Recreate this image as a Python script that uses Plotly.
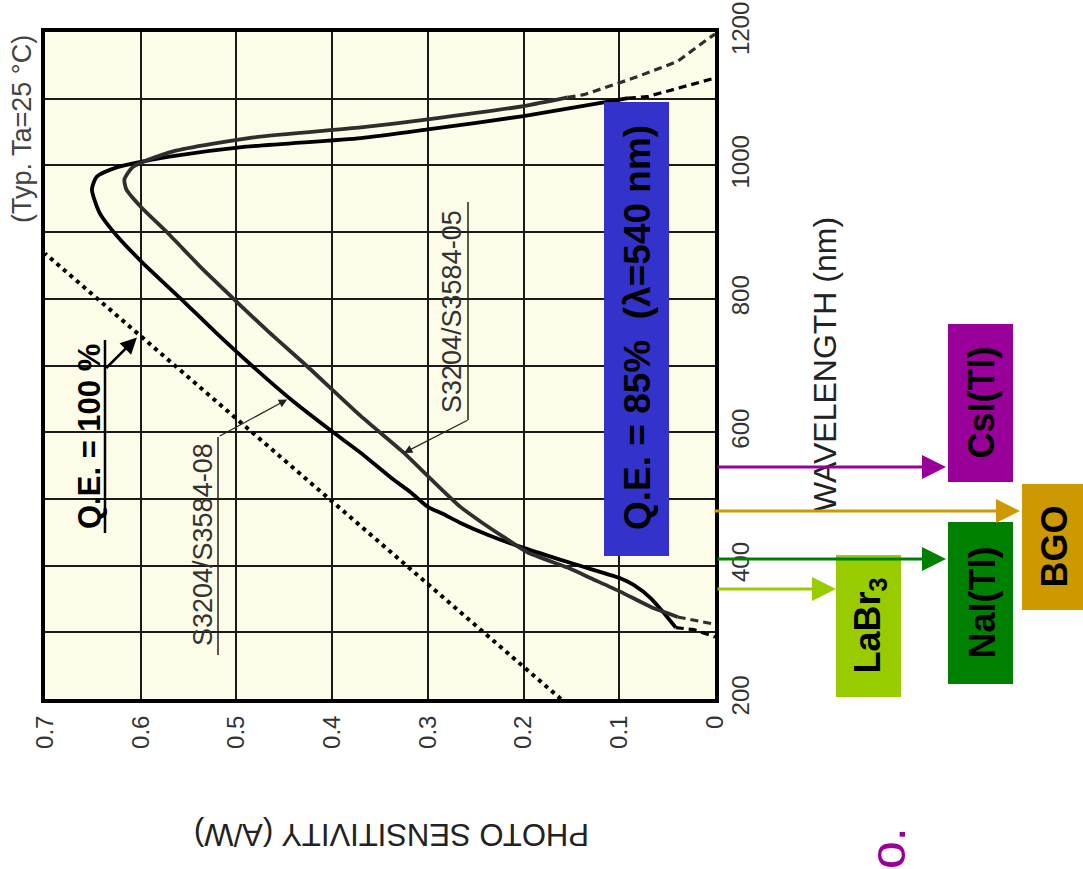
import plotly.graph_objects as go

# ---- data -------------------------------------------------------------
# S3204/S3584-08 (black curve): wavelength (nm) and photo sensitivity (A/W)
s08_nm = [307, 330, 351, 371, 381, 394, 409, 428, 446, 464, 478, 488, 510, 529,
          569, 601, 649, 700, 750, 800, 854, 893, 929, 964, 983, 997, 1004, 1013, 1028, 1041,
          1054, 1074, 1099, 1101]
s08_aw = [0.041, 0.054, 0.067, 0.085, 0.099, 0.128, 0.162, 0.203, 0.237, 0.266,
          0.285, 0.300, 0.318, 0.336, 0.370, 0.400, 0.443, 0.484, 0.522, 0.558, 0.598,
          0.624, 0.643, 0.651, 0.646, 0.625, 0.604, 0.570, 0.490, 0.370, 0.300, 0.200, 0.098, 0.091]
s08_tail_hi_nm = [1101, 1103, 1112, 1122, 1129, 1131]
s08_tail_hi_aw = [0.091, 0.071, 0.048, 0.024, 0.005, 0.0]
s08_tail_lo_nm = [307, 304, 293]
s08_tail_lo_aw = [0.041, 0.022, 0.0]

# S3204/S3584-05 (dark grey curve)
s05_nm = [323, 329, 338, 361, 380, 397, 420, 443, 465, 488, 530, 569, 624, 700, 750, 800,
          844, 899, 938, 964, 979, 998, 1021, 1042, 1057, 1069, 1089, 1102]
s05_aw = [0.039, 0.050, 0.067, 0.099, 0.128, 0.154, 0.196, 0.221, 0.244, 0.266, 0.297,
          0.325, 0.370, 0.427, 0.466, 0.503, 0.535, 0.572, 0.600, 0.615, 0.617, 0.608,
          0.566, 0.482, 0.370, 0.300, 0.200, 0.154]
s05_tail_hi_nm = [1102, 1106, 1132, 1156, 1189, 1197]
s05_tail_hi_aw = [0.154, 0.137, 0.083, 0.039, 0.008, 0.0]
s05_tail_lo_nm = [323, 318, 312]
s05_tail_lo_aw = [0.039, 0.022, 0.0]

# Q.E. = 100 % reference line
qe100_nm = [200, 868]
qe100_aw = [0.161, 0.70]

# scintillator emission peaks (nm)
scint_names = ["LaBr<sub>3</sub>", "NaI(Tl)", "BGO", "CsI(Tl)"]
scint_peak_nm = [365, 410, 482, 548]
scint_colors = ["#99cc00", "#008000", "#cc9900", "#990099"]

# axis ticks
sens_ticks = [0.0, 0.1, 0.2, 0.3, 0.4, 0.5, 0.6, 0.7]
sens_ticktext = ["0", "0.1", "0.2", "0.3", "0.4", "0.5", "0.6", "0.7"]
wl_ticks = [200, 300, 400, 500, 600, 700, 800, 900, 1000, 1100, 1200]
wl_ticktext = ["200", "", "400", "", "600", "", "800", "", "1000", "", "1200"]

# ---- layout helpers ---------------------------------------------------
W, H = 1083, 869
ML, MR, MT, MB = 45, 368, 32, 170
PW, PH = W - ML - MR, H - MT - MB


def pxx(x):
    return (x - ML) / PW


def pxy(y):
    return (H - MB - y) / PH


FONT = "Liberation Sans, Arial, sans-serif"

fig = go.Figure()

fig.add_trace(go.Scatter(x=qe100_aw, y=qe100_nm, mode="lines",
                         line=dict(color="black", width=4, dash="4px,4.6px"),
                         hoverinfo="skip"))
for nm_, aw_, col in [(s08_nm, s08_aw, "#000000"), (s05_nm, s05_aw, "#2e2e2e")]:
    fig.add_trace(go.Scatter(x=aw_, y=nm_, mode="lines",
                             line=dict(color=col, width=3.8, shape="spline", smoothing=0.6)))
for nm_, aw_, col in [(s08_tail_hi_nm, s08_tail_hi_aw, "#000000"),
                      (s08_tail_lo_nm, s08_tail_lo_aw, "#000000"),
                      (s05_tail_hi_nm, s05_tail_hi_aw, "#2e2e2e"),
                      (s05_tail_lo_nm, s05_tail_lo_aw, "#2e2e2e")]:
    fig.add_trace(go.Scatter(x=aw_, y=nm_, mode="lines",
                             line=dict(color=col, width=3.2, dash="8px,5px")))

fig.update_layout(
    width=W, height=H, showlegend=False,
    margin=dict(l=ML, r=MR, t=MT, b=MB, pad=0),
    paper_bgcolor="white", plot_bgcolor="#fdfce8",
    font=dict(family=FONT, color="#222"),
    xaxis=dict(range=[0.7, 0.0], tickvals=sens_ticks, ticktext=sens_ticktext,
               tickangle=-90, tickfont=dict(size=24, color="#333"),
               showgrid=True, gridcolor="#1a1a1a", gridwidth=1.6, zeroline=False,
               showline=True, mirror=True, linecolor="black", linewidth=4,
               ticks="", ticklabelstandoff=3, automargin=False),
    yaxis=dict(range=[200, 1200], side="right", tickvals=wl_ticks, ticktext=wl_ticktext,
               tickangle=-90, tickfont=dict(size=24, color="#333"),
               showgrid=True, gridcolor="#1a1a1a", gridwidth=1.6, zeroline=False,
               showline=True, mirror=True, linecolor="black", linewidth=4,
               ticks="", ticklabelstandoff=1, automargin=False),
)

shapes = []
ann = []


def label(text, x, y, size, color, angle=-90):
    ann.append(dict(text=text, xref="paper", yref="paper", x=pxx(x), y=pxy(y),
                    xanchor="center", yanchor="middle", textangle=angle,
                    showarrow=False, font=dict(size=size, color=color)))


# axis titles and notes
label("PHOTO SENSITIVITY (A/W)", 392, 835, 31, "#222", angle=180)
label("WAVELENGTH (nm)", 825, 365, 32, "#222")
label("(Typ. Ta=25 °C)", 22, 129, 27, "#444")

# curve labels with leader lines
label("S3204/S3584-08", 203, 545, 27, "#333")
shapes.append(dict(type="line", xref="paper", yref="paper", x0=pxx(218), x1=pxx(218),
                   y0=pxy(655), y1=pxy(437), line=dict(color="#222", width=1.5)))
ann.append(dict(text="", xref="x", yref="y", axref="x", ayref="y",
                x=0.447, y=649, ax=0.519, ay=593, showarrow=True,
                arrowhead=2, arrowsize=1.4, arrowwidth=1.2, arrowcolor="#222"))

label("S3204/S3584-05", 452, 312, 27, "#333")
shapes.append(dict(type="line", xref="paper", yref="paper", x0=pxx(468), x1=pxx(468),
                   y0=pxy(202), y1=pxy(420), line=dict(color="#222", width=1.5)))
ann.append(dict(text="", xref="x", yref="y", axref="x", ayref="y",
                x=0.325, y=569, ax=0.257, ay=619, showarrow=True,
                arrowhead=2, arrowsize=1.4, arrowwidth=1.2, arrowcolor="#222"))

# Q.E. = 100 % label
label("<b>Q.E. = 100 %</b>", 89, 437, 31, "black")
shapes.append(dict(type="line", xref="paper", yref="paper", x0=pxx(105), x1=pxx(105),
                   y0=pxy(340), y1=pxy(533), line=dict(color="black", width=2.5)))
ann.append(dict(text="", xref="x", yref="y", axref="x", ayref="y",
                x=0.604, y=742, ax=0.6376, ay=694, showarrow=True,
                arrowhead=2, arrowsize=1.3, arrowwidth=2.5, arrowcolor="black"))

# Q.E. = 85 % box
shapes.append(dict(type="rect", xref="paper", yref="paper", layer="above",
                   x0=pxx(604), x1=pxx(669), y0=pxy(556), y1=pxy(102),
                   fillcolor="#3333cc", line=dict(width=0)))
label("<b>Q.E. = 85%  (λ=540 nm)</b>", 638, 328, 37, "black")

# scintillator boxes and arrows
boxes = {
    "LaBr<sub>3</sub>": (836, 901, 555, 697, 836, 716),
    "NaI(Tl)": (948, 1013, 522, 684, 946, 716),
    "BGO": (1022, 1083, 484, 610, 1020, 713),
    "CsI(Tl)": (948, 1013, 324, 482, 946, 716),
}
for name, nm, col in zip(scint_names, scint_peak_nm, scint_colors):
    x0, x1, y0, y1, head, tail = boxes[name]
    shapes.append(dict(type="rect", xref="paper", yref="paper",
                       x0=pxx(x0), x1=pxx(x1), y0=pxy(y1), y1=pxy(y0),
                       fillcolor=col, line=dict(width=0)))
    label("<b>%s</b>" % name, (x0 + x1) / 2 + 1, (y0 + y1) / 2, 36, "black")
    ann.append(dict(text="", xref="paper", yref="y", x=pxx(head), y=nm,
                    ax=-(head - tail), ay=0, showarrow=True, arrowhead=2,
                    arrowsize=1.6, arrowwidth=3, arrowcolor=col, standoff=0))

label("o.", 888, 848, 50, "#990099")

fig.update_layout(shapes=shapes, annotations=ann)
fig.write_html("out.html")
